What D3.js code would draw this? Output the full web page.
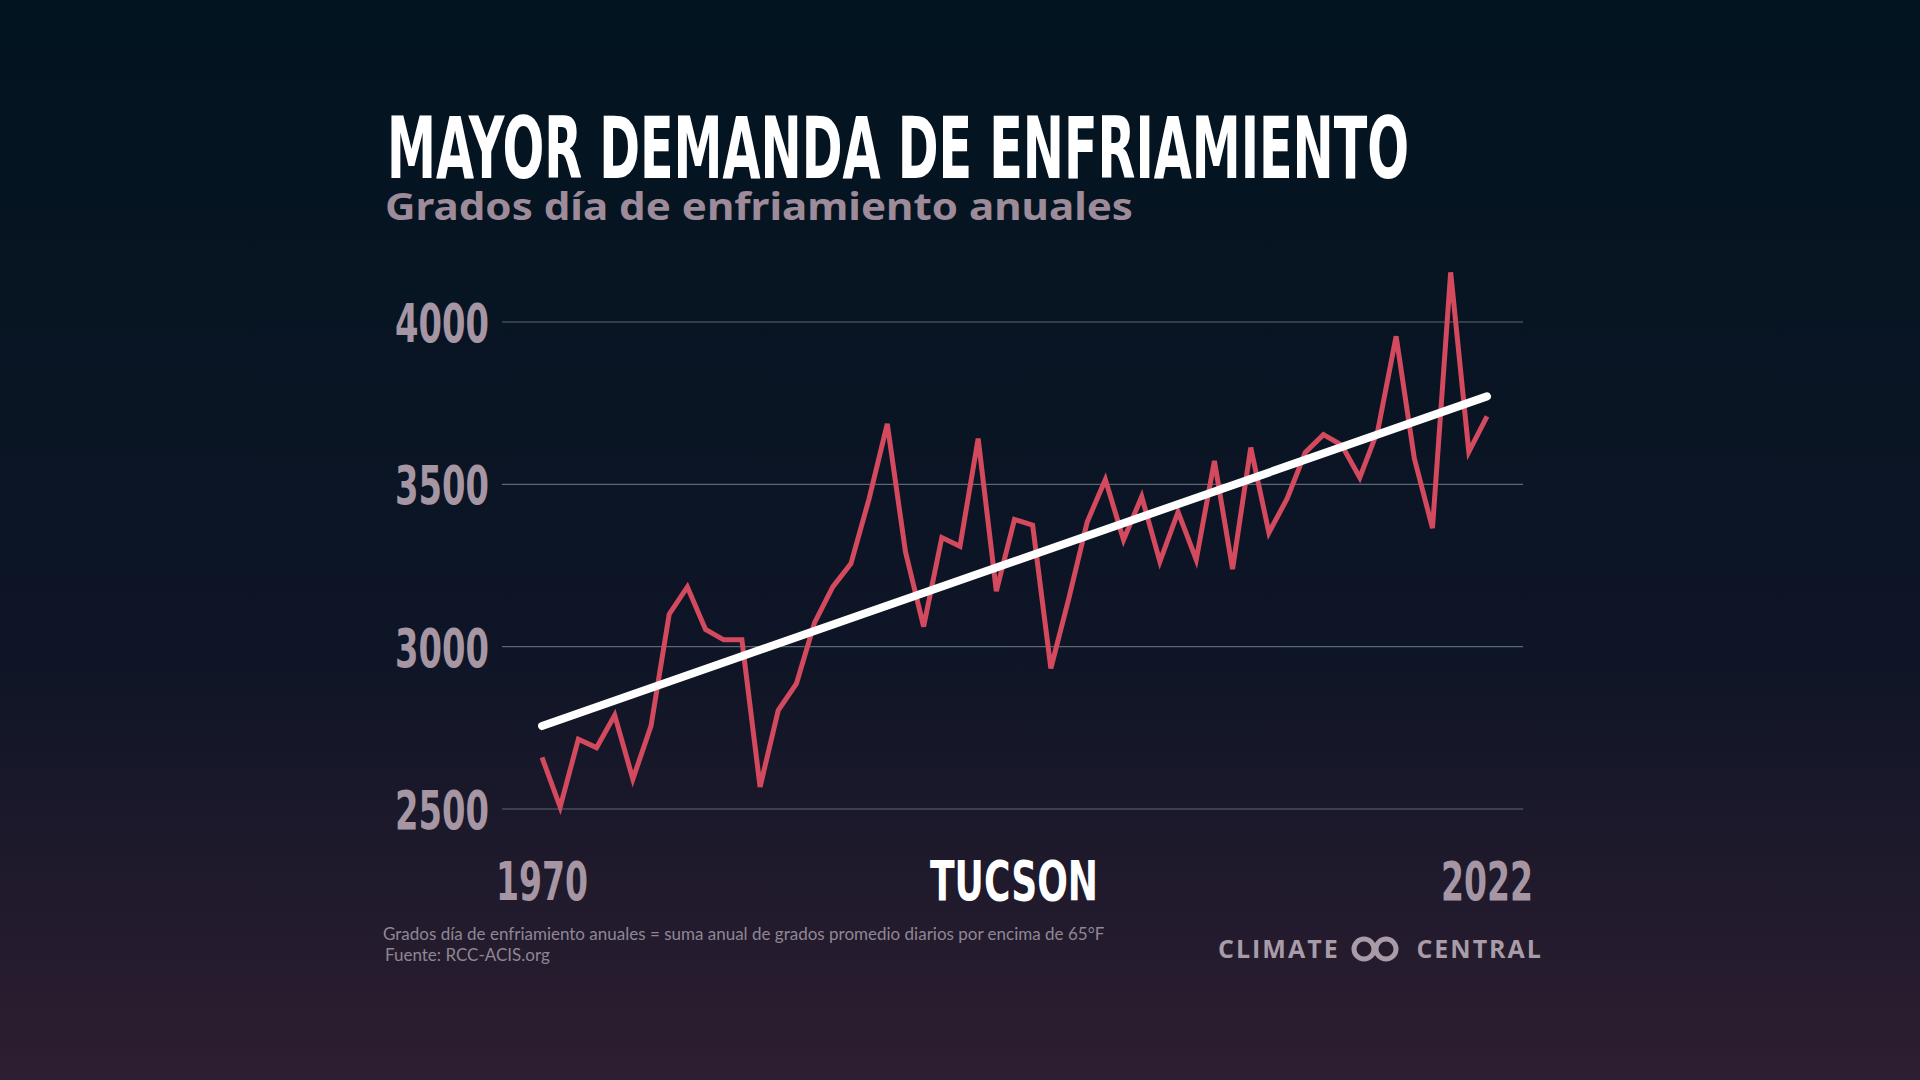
<!DOCTYPE html>
<html><head><meta charset="utf-8">
<script src="https://cdn.jsdelivr.net/npm/d3@7"></script>
<style>body{margin:0;background:#000;}svg{display:block;}</style>
</head><body>
<script>
let years = d3.range(1970, 2023);
let cdd = [2659, 2506, 2715, 2689, 2789, 2592, 2756, 3100, 3184, 3053,
    3021, 3021, 2568, 2804, 2886, 3074, 3184, 3256, 3456, 3686,
    3292, 3062, 3336, 3309, 3641, 3171, 3392, 3374, 2933, 3151,
    3384, 3515, 3329, 3462, 3262, 3415, 3268, 3572, 3239, 3613,
    3351, 3456, 3598, 3653, 3621, 3521, 3668, 3956, 3580, 3365,
    4153, 3600, 3709];
let yTicks = [2500, 3000, 3500, 4000];

let width = 1920, height = 1080;
let cond = "'Liberation Sans Narrow','DejaVu Sans Condensed',sans-serif";

let svg = d3.select("body").append("svg").attr("width", width).attr("height", height);

let grad = svg.append("defs").append("linearGradient").attr("id", "bg")
    .attr("x1", 0).attr("y1", 0).attr("x2", 0).attr("y2", 1);
grad.append("stop").attr("offset", "0%").attr("stop-color", "#021420");
grad.append("stop").attr("offset", "60%").attr("stop-color", "#0e1526");
grad.append("stop").attr("offset", "100%").attr("stop-color", "#2e1e31");
svg.append("rect").attr("width", width).attr("height", height).attr("fill", "url(#bg)");

let x = d3.scaleLinear().domain([1970, 2022]).range([542, 1487]);
let y = d3.scaleLinear().domain([2500, 4000]).range([809, 322]);

// gridlines
svg.append("g").selectAll("line").data(yTicks).join("line")
    .attr("x1", 502).attr("x2", 1523)
    .attr("y1", d => y(d)).attr("y2", d => y(d))
    .attr("stroke", "#5d6773").attr("stroke-width", 1.2);

svg.append("g").selectAll("text").data(yTicks).join("text")
    .attr("x", 489).attr("y", d => y(d) + 20)
    .attr("text-anchor", "end")
    .attr("font-family", cond).attr("font-weight", "bold").attr("font-size", 54)
    .attr("textLength", 94).attr("lengthAdjust", "spacingAndGlyphs")
    .attr("fill", "#a696a3").text(d => d);

// data line
let line = d3.line().x((d, i) => x(years[i])).y(d => y(d));
svg.append("path").datum(cdd).attr("d", line)
    .attr("fill", "none").attr("stroke", "#d34a5f").attr("stroke-width", 5)
    .attr("stroke-linejoin", "miter");

// trend (least squares)
let mx = d3.mean(years), my = d3.mean(cdd);
let slope = d3.sum(years, (t, i) => (t - mx) * (cdd[i] - my)) / d3.sum(years, t => (t - mx) * (t - mx));
let trend = [1970, 2022].map(t => [t, my + slope * (t - mx)]);
svg.append("path").datum(trend)
    .attr("d", d3.line().x(d => x(d[0])).y(d => y(d[1])))
    .attr("stroke", "#fff").attr("stroke-width", 8).attr("stroke-linecap", "round");

// x labels
[[1970, "1970"], [2022, "2022"]].forEach(d => {
    svg.append("text").attr("x", x(d[0]) - 46).attr("y", 900)
        .attr("font-family", cond).attr("font-weight", "bold").attr("font-size", 54)
        .attr("textLength", 92).attr("lengthAdjust", "spacingAndGlyphs")
        .attr("fill", "#a696a3").text(d[1]);
});
svg.append("text").attr("x", 930).attr("y", 900)
    .attr("font-family", cond).attr("font-weight", "bold").attr("font-size", 56)
    .attr("textLength", 168).attr("lengthAdjust", "spacingAndGlyphs")
    .attr("fill", "#fff").text("TUCSON");

// titles
svg.append("text").attr("x", 387).attr("y", 178)
    .attr("font-family", cond).attr("font-weight", "bold").attr("font-size", 86)
    .attr("textLength", 1022).attr("lengthAdjust", "spacingAndGlyphs")
    .attr("fill", "#fff").text("MAYOR DEMANDA DE ENFRIAMIENTO");
svg.append("text").attr("x", 385).attr("y", 220)
    .attr("font-family", "'Noto Sans',sans-serif").attr("font-weight", "bold").attr("font-size", 38)
    .attr("textLength", 748).attr("lengthAdjust", "spacingAndGlyphs")
    .attr("fill", "#9d8b99").text("Grados día de enfriamiento anuales");

// footnote
svg.append("text").attr("x", 383).attr("y", 940)
    .attr("font-family", "Lato,sans-serif").attr("font-size", 17).attr("fill", "#8f8794")
    .text("Grados día de enfriamiento anuales = suma anual de grados promedio diarios por encima de 65°F");
svg.append("text").attr("x", 385).attr("y", 961)
    .attr("font-family", "Lato,sans-serif").attr("font-size", 17).attr("fill", "#8f8794")
    .text("Fuente: RCC-ACIS.org");

// logo
let logo = svg.append("g").attr("fill", "#a99ca8");
logo.append("text").attr("x", 1218).attr("y", 958)
    .attr("font-family", "'Open Sans',sans-serif").attr("font-weight", "bold").attr("font-size", 25)
    .attr("letter-spacing", 2).text("CLIMATE");
logo.append("circle").attr("cx", 1364).attr("cy", 949).attr("r", 10)
    .attr("fill", "none").attr("stroke", "#a99ca8").attr("stroke-width", 5);
logo.append("circle").attr("cx", 1386).attr("cy", 949).attr("r", 10)
    .attr("fill", "none").attr("stroke", "#a99ca8").attr("stroke-width", 5);
logo.append("text").attr("x", 1543).attr("y", 958).attr("text-anchor", "end")
    .attr("font-family", "'Open Sans',sans-serif").attr("font-weight", "bold").attr("font-size", 25)
    .attr("letter-spacing", 2).text("CENTRAL");
</script>
</body></html>
